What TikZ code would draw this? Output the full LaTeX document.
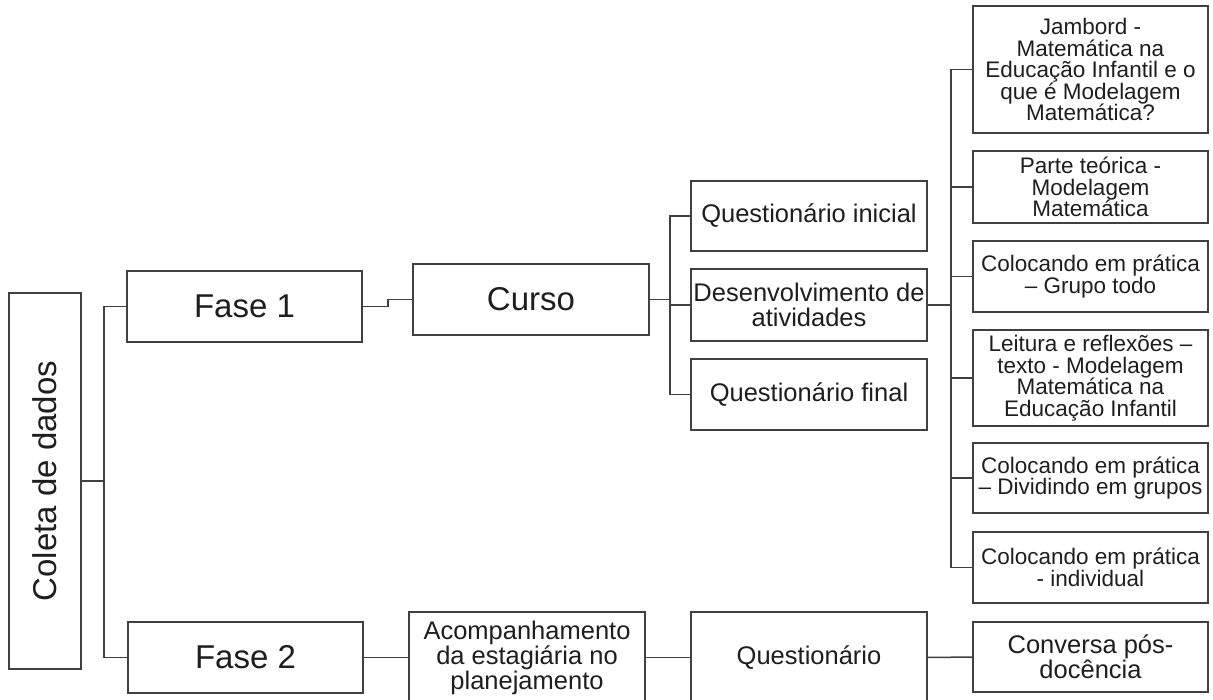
\documentclass[tikz,border=0pt]{standalone}
\usepackage{fontspec}
\setmainfont{Liberation Sans}
\definecolor{edge}{HTML}{404040}
\definecolor{ink}{HTML}{1E1E1E}
\tikzset{
  box/.style={draw=edge, line width=1.5pt, rectangle, inner sep=0pt, outer sep=0pt,
              align=center, text=ink},
  link/.style={draw=edge, line width=1.5pt},
  big/.style={font=\fontsize{33}{38}\selectfont},
  mid/.style={font=\fontsize{25.5}{25}\selectfont},
  small/.style={font=\fontsize{22.5}{21.5}\selectfont},
}
\begin{document}
\begin{tikzpicture}[x=1pt,y=-1pt]
\useasboundingbox (0,0) rectangle (1213,699);
\clip (0,0) rectangle (1213,699);

% root
\node[box, minimum width=72, minimum height=376] (col) at (45,481)
  {\fontsize{33}{38}\selectfont\rotatebox{90}{Coleta de dados}};

% phases
\node[box, big, minimum width=235, minimum height=71] (f1) at (244.5,306.5) {Fase 1};
\node[box, big, minimum width=235, minimum height=71] (f2) at (245.5,657.5) {Fase 2};

% phase 1 branch
\node[box, big, minimum width=236, minimum height=71] (curso) at (531,299.5) {Curso};
\node[box, mid, minimum width=236, minimum height=70] (q1) at (809,216) {Questionário inicial};
\node[box, mid, minimum width=236, minimum height=72] (q2) at (809,305) {Desenvolvimento de\\atividades};
\node[box, mid, minimum width=236, minimum height=71] (q3) at (809,394.5) {Questionário final};

% activities
\node[box, small, minimum width=235, minimum height=127] (r1) at (1090.5,69.5)
  {Jambord -\\Matemática na\\Educação Infantil e o\\que é Modelagem\\Matemática?};
\node[box, small, minimum width=235, minimum height=72] (r2) at (1090.5,187)
  {Parte teórica -\\Modelagem\\Matemática};
\node[box, small, minimum width=235, minimum height=71] (r3) at (1090.5,276.5)
  {Colocando em prática\\– Grupo todo};
\node[box, small, minimum width=235, minimum height=96] (r4) at (1090.5,378)
  {Leitura e reflexões –\\texto - Modelagem\\Matemática na\\Educação Infantil};
\node[box, small, minimum width=235, minimum height=70] (r5) at (1090.5,478)
  {Colocando em prática\\– Dividindo em grupos};
\node[box, small, minimum width=235, minimum height=71] (r6) at (1090.5,567.5)
  {Colocando em prática\\- individual};

% phase 2 branch
\node[box, mid, minimum width=236, minimum height=91] (acomp) at (527,657.5)
  {Acompanhamento\\da estagiária no\\planejamento};
\node[box, mid, minimum width=236, minimum height=91] (quest) at (809,657.5) {Questionário};
\node[box, mid, minimum width=235, minimum height=70] (conv) at (1090.5,657)
  {Conversa pós-\\docência};

% connectors
\coordinate (j1) at (104,481);
\draw[link] (col.east) -- (j1);
\draw[link] (f1.west) -| (j1) |- (f2.west);

\coordinate (s1) at (388,299.5);
\draw[link] (f1.east) -| (s1) -- (curso.west);

\coordinate (j2) at (670,299.5);
\draw[link] (curso.east) -- (j2);
\draw[link] (q1.west) -| (j2) |- (q3.west);
\draw[link] (j2 |- q2.west) -- (q2.west);

\coordinate (j3) at (951,305);
\draw[link] (q2.east) -- (j3);
\draw[link] (r1.west) -| (j3) |- (r6.west);
\draw[link] (j3 |- r2.west) -- (r2.west);
\draw[link] (j3 |- r3.west) -- (r3.west);
\draw[link] (j3 |- r4.west) -- (r4.west);
\draw[link] (j3 |- r5.west) -- (r5.west);

\draw[link] (f2.east) -- (acomp.west);
\draw[link] (acomp.east) -- (quest.west);
\draw[link] (quest.east) -- (conv.west);
\end{tikzpicture}
\end{document}
